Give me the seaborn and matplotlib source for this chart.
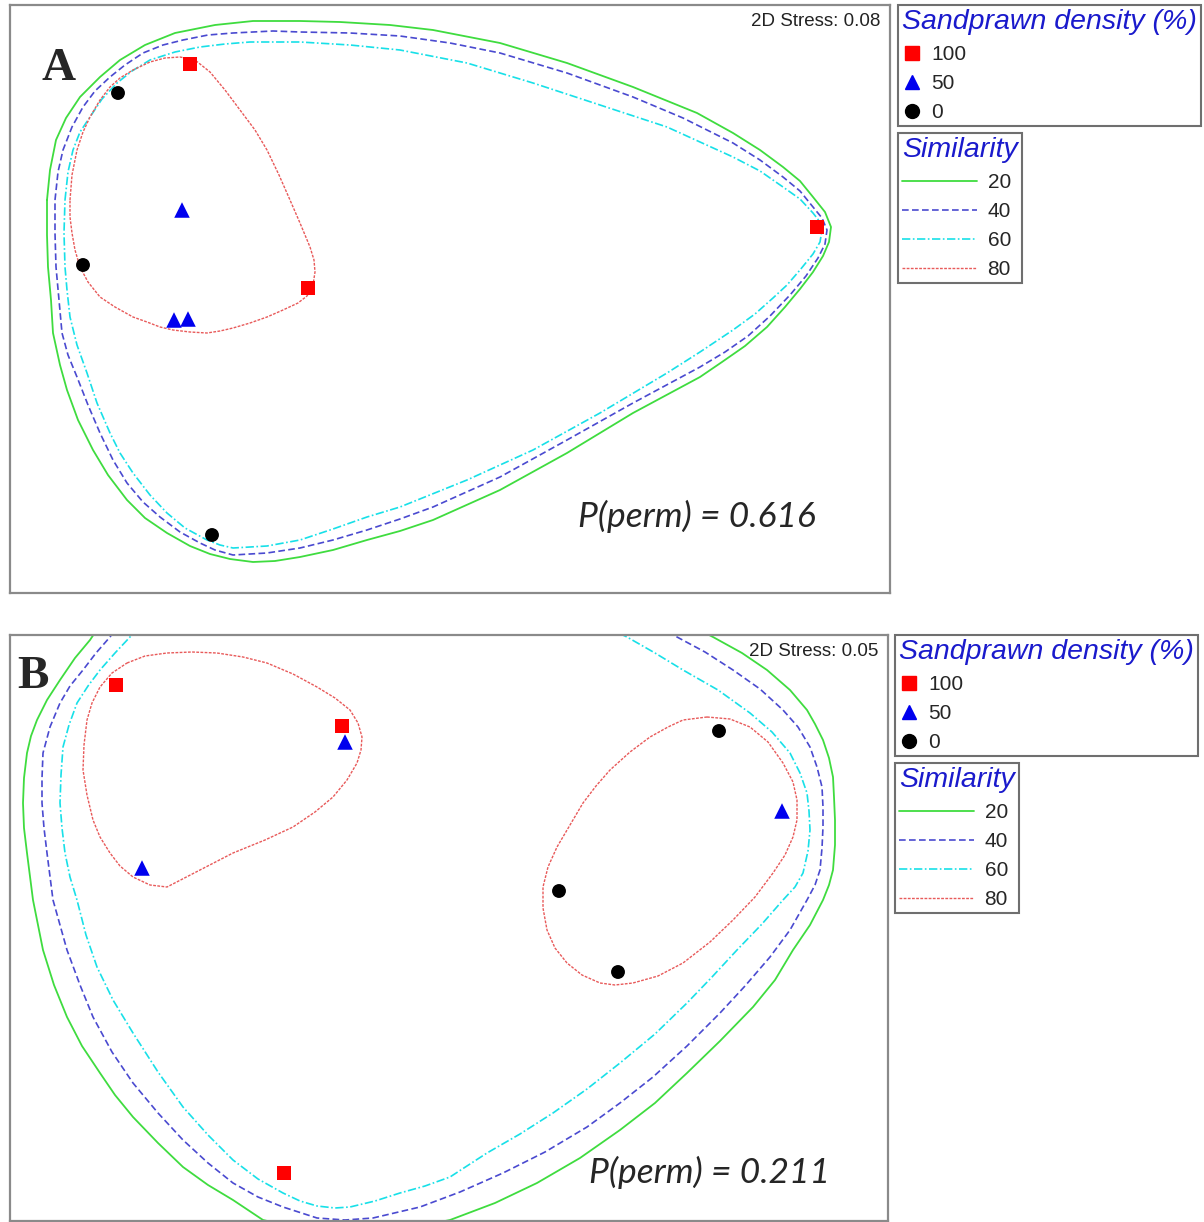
import numpy as np
import pandas as pd
import seaborn as sns
import matplotlib
matplotlib.use("Agg")
import matplotlib.pyplot as plt
from matplotlib.lines import Line2D

# nMDS ordination, coordinates (screen units, y downwards)
# panel A
a_x = [190, 308, 817, 182, 174, 188, 118, 83, 212]
a_y = [64, 288, 227, 210, 320, 319, 93, 265, 535]
a_density = ["100", "100", "100", "50", "50", "50", "0", "0", "0"]
# panel B
b_x = [116, 342, 284, 345, 142, 782, 719, 559, 618]
b_y = [685, 726, 1173, 742, 868, 811, 731, 891, 972]
b_density = ["100", "100", "100", "50", "50", "50", "0", "0", "0"]

# similarity contours (cluster overlays), traced vertices
a_c20 = [(47, 200), (50, 170), (56, 140), (66, 118), (80, 97), (100, 77), (120, 60), (145, 45), (175, 33),
         (215, 25), (253, 21), (300, 21), (340, 22), (390, 25), (433, 30), (500, 43), (567, 63), (633, 87),
         (697, 113), (733, 133), (760, 150), (783, 167), (800, 181), (813, 197), (825, 212), (831, 227),
         (829, 242), (823, 256), (813, 272), (800, 289), (785, 307), (767, 327), (745, 346), (722, 362),
         (700, 377), (633, 413), (567, 453), (500, 490), (433, 520), (400, 531), (367, 540), (333, 550),
         (300, 557), (275, 561), (253, 562), (230, 559), (210, 554), (190, 546), (167, 533), (145, 518),
         (127, 500), (108, 475), (93, 450), (78, 420), (67, 390), (60, 365), (53, 333), (51, 300), (48, 267),
         (47, 235)]
a_c40 = [(55, 200), (58, 172), (63, 150), (72, 127), (83, 107), (95, 91), (110, 77), (125, 65), (143, 53),
         (163, 45), (183, 40), (208, 35), (233, 33), (273, 31), (300, 32), (350, 33), (400, 36), (450, 43),
         (500, 53), (567, 73), (633, 97), (683, 118), (733, 143), (760, 160), (783, 177), (800, 191),
         (813, 207), (822, 218), (827, 230), (825, 244), (818, 258), (806, 276), (790, 295), (770, 316),
         (748, 336), (725, 352), (700, 367), (633, 403), (567, 440), (500, 477), (433, 507), (400, 519),
         (367, 530), (333, 540), (300, 548), (267, 553), (233, 555), (215, 550), (200, 543), (180, 532),
         (160, 517), (143, 502), (127, 483), (113, 460), (100, 433), (88, 405), (77, 377), (68, 355),
         (62, 333), (59, 300), (56, 267), (55, 233)]
a_c60 = [(65, 200), (68, 172), (73, 150), (80, 132), (90, 117), (102, 99), (117, 83), (132, 71), (150, 60),
         (175, 52), (200, 47), (225, 44), (250, 42), (300, 42), (350, 45), (400, 50), (467, 63), (533, 83),
         (600, 105), (667, 127), (733, 157), (760, 171), (783, 187), (800, 199), (813, 213), (820, 222),
         (822, 230), (820, 242), (813, 254), (800, 270), (787, 285), (773, 298), (755, 314), (733, 330),
         (700, 352), (667, 373), (600, 413), (533, 450), (467, 480), (400, 507), (367, 517), (333, 529),
         (300, 540), (267, 546), (233, 548), (220, 545), (207, 540), (185, 528), (167, 513), (150, 495),
         (133, 473), (120, 453), (110, 433), (97, 403), (87, 373), (77, 345), (70, 317), (67, 290), (65, 267),
         (64, 233)]
a_c80 = [(70, 200), (72, 175), (77, 150), (83, 132), (90, 117), (100, 100), (110, 87), (120, 78), (133, 70),
         (150, 62), (165, 58), (180, 57), (195, 60), (210, 72), (225, 90), (240, 110), (255, 130), (267, 150),
         (279, 175), (290, 200), (300, 223), (310, 247), (314, 260), (315, 272), (313, 285), (307, 296),
         (298, 303), (283, 310), (267, 317), (250, 323), (233, 328), (220, 331), (207, 333), (190, 332),
         (173, 330), (160, 327), (147, 322), (133, 317), (115, 307), (100, 297), (88, 282), (80, 267),
         (75, 250), (72, 233), (70, 217)]

b_c20 = [(110, 610), (90, 640), (75, 658), (60, 680), (47, 700), (37, 720), (31, 736), (27, 753), (24, 778),
         (23, 803), (24, 828), (27, 853), (33, 900), (43, 950), (54, 985), (67, 1017), (82, 1046), (100, 1073),
         (115, 1095), (133, 1117), (158, 1143), (183, 1167), (208, 1185), (233, 1200), (263, 1220),
         (350, 1240), (450, 1220), (495, 1203), (537, 1183), (580, 1158), (620, 1130), (655, 1103),
         (687, 1073), (720, 1041), (753, 1007), (775, 980), (793, 950), (810, 925), (823, 900), (829, 885),
         (833, 870), (835, 845), (835, 820), (834, 797), (833, 777), (829, 758), (823, 740), (815, 724),
         (807, 710), (790, 690), (767, 670), (742, 653), (713, 637), (650, 605), (400, 580)]
b_c40 = [(125, 615), (110, 637), (96, 653), (83, 670), (70, 686), (60, 703), (50, 727), (43, 753), (42, 778),
         (42, 803), (44, 828), (47, 853), (53, 900), (67, 950), (80, 985), (93, 1017), (112, 1052),
         (133, 1083), (158, 1113), (183, 1140), (208, 1163), (233, 1183), (258, 1197), (283, 1207),
         (317, 1218), (345, 1220), (373, 1218), (420, 1207), (460, 1192), (503, 1173), (545, 1152),
         (587, 1127), (620, 1103), (653, 1077), (687, 1046), (720, 1013), (745, 986), (770, 957),
         (790, 930), (807, 900), (815, 885), (820, 870), (822, 848), (823, 827), (823, 807), (822, 787),
         (817, 767), (810, 747), (798, 727), (783, 710), (760, 689), (733, 670), (705, 652), (677, 637),
         (620, 610), (400, 590)]
b_c60 = [(145, 615), (130, 637), (115, 653), (100, 670), (88, 686), (77, 703), (69, 725), (63, 747), (61, 775),
         (60, 803), (62, 828), (65, 853), (70, 877), (77, 900), (86, 935), (97, 967), (113, 1000), (133, 1033),
         (158, 1072), (183, 1107), (208, 1135), (233, 1160), (258, 1179), (283, 1193), (300, 1201),
         (317, 1206), (335, 1208), (350, 1207), (375, 1201), (400, 1193), (425, 1186), (450, 1177),
         (487, 1153), (520, 1134), (553, 1113), (587, 1089), (620, 1063), (655, 1034), (687, 1003),
         (712, 977), (737, 950), (762, 924), (783, 900), (795, 887), (803, 873), (808, 851), (810, 830),
         (809, 811), (807, 793), (800, 773), (790, 753), (772, 732), (750, 713), (718, 690), (683, 670),
         (655, 653), (627, 637), (580, 615), (400, 600)]
b_c80_left = [(127, 663), (145, 656), (167, 653), (192, 652), (217, 653), (243, 657), (267, 663), (293, 674),
              (317, 687), (335, 698), (350, 710), (358, 723), (362, 737), (361, 750), (357, 763), (347, 780),
              (333, 797), (315, 812), (293, 827), (265, 840), (233, 853), (200, 870), (167, 887), (150, 885),
              (133, 877), (120, 866), (110, 853), (100, 837), (93, 820), (87, 795), (83, 770), (84, 745),
              (87, 720), (92, 703), (100, 687), (112, 673)]
b_c80_right = [(707, 717), (730, 719), (750, 727), (768, 742), (783, 763), (793, 782), (797, 800), (797, 820),
               (793, 837), (785, 855), (773, 873), (755, 897), (733, 920), (710, 942), (683, 963), (658, 976),
               (633, 983), (615, 985), (600, 983), (582, 975), (567, 963), (555, 948), (547, 930), (543, 908),
               (543, 887), (548, 867), (557, 847), (570, 825), (583, 803), (596, 786), (610, 770), (630, 752),
               (650, 737), (668, 727), (683, 720)]

sim_levels = ["20", "40", "60", "80"]
dens_levels = ["100", "50", "0"]

W, H = 1204, 1222
sns.set_theme(style="white")
plt.rcParams["font.family"] = ["Liberation Sans", "DejaVu Sans"]

pal = {"100": "#ff0000", "50": "#0000ee", "0": "#000000"}
mk = {"100": "s", "50": "^", "0": "o"}
sizes = {"100": 105, "50": 125, "0": 100}
line_style = {"20": dict(color="#3fdc3f", ls="-", lw=1.3),
              "40": dict(color="#4a4ad0", ls=(0, (4, 2)), lw=1.2),
              "60": dict(color="#18e0e8", ls=(0, (5, 1.5, 1, 1.5)), lw=1.2),
              "80": dict(color="#e85a5a", ls=(0, (2, 1)), lw=1.0)}

fig = plt.figure(figsize=(W / 100, H / 100), dpi=100)


def draw_panel(rect, xlim, ylim, pts, contours, letter, stress, perm, perm_xy, leg_xy):
    ax = fig.add_axes([rect[0] / W, 1 - rect[3] / H, (rect[2] - rect[0]) / W, (rect[3] - rect[1]) / H])
    for lev, verts in contours:
        v = np.array(verts + [verts[0]])
        sns.lineplot(x=v[:, 0], y=v[:, 1], sort=False, estimator=None, ax=ax, **line_style[lev])
    for lev in dens_levels:
        sub = pts[pts.density == lev]
        sns.scatterplot(data=sub, x="x", y="y", marker=mk[lev], color=pal[lev], s=sizes[lev],
                        edgecolor="none", ax=ax, legend=False, zorder=5)
    ax.set_xlim(*xlim)
    ax.set_ylim(*ylim)
    ax.set_xticks([])
    ax.set_yticks([])
    ax.set_xlabel("")
    ax.set_ylabel("")
    for sp in ax.spines.values():
        sp.set_color("#8a8a8a")
        sp.set_linewidth(1.6)
    ax.text(letter[1], letter[2], letter[0], family="Liberation Serif",
            fontweight="bold", fontsize=34, ha="left", va="baseline")
    ax.text(xlim[1] - 10, ylim[1] + 8, stress, fontsize=13.5, ha="right", va="top", color="#222222")
    ax.text(perm_xy[0], perm_xy[1], perm, family=["Lato", "DejaVu Sans"], style="italic",
            fontsize=25.5, ha="right", va="baseline")

    # legends
    d_handles = [Line2D([], [], ls="none", marker=mk[l], color=pal[l], markersize=10) for l in dens_levels]
    leg1 = fig.legend(d_handles, dens_levels, title="Sandprawn density (%)", loc="upper left",
                      bbox_to_anchor=(leg_xy[0] / W, 1 - leg_xy[1] / H), alignment="left",
                      prop={"family": "Liberation Sans", "size": 15},
                      title_fontproperties={"family": "Liberation Sans", "style": "italic", "size": 20.5},
                      frameon=True, fancybox=False, edgecolor="#6f6f6f", framealpha=1,
                      handlelength=0.9, handletextpad=0.5, labelspacing=0.48, borderpad=0.2,
                      borderaxespad=0, markerscale=1.0)
    leg1.get_title().set_color("#1a1acc")
    leg1.get_frame().set_linewidth(1.5)
    s_handles = [Line2D([], [], **line_style[l]) for l in sim_levels]
    leg2 = fig.legend(s_handles, sim_levels, title="Similarity", loc="upper left",
                      bbox_to_anchor=(leg_xy[0] / W, 1 - (leg_xy[1] + 128) / H), alignment="left",
                      prop={"family": "Liberation Sans", "size": 15},
                      title_fontproperties={"family": "Liberation Sans", "style": "italic", "size": 20.5},
                      frameon=True, fancybox=False, edgecolor="#6f6f6f", framealpha=1,
                      handlelength=3.6, handletextpad=0.5, labelspacing=0.48, borderpad=0.2,
                      borderaxespad=0)
    leg2.get_title().set_color("#1a1acc")
    leg2.get_frame().set_linewidth(1.5)
    return ax


pts_a = pd.DataFrame({"x": a_x, "y": a_y, "density": a_density})
pts_b = pd.DataFrame({"x": b_x, "y": b_y, "density": b_density})

draw_panel((10, 5, 890, 593), (10, 890), (593, 5), pts_a,
           [("20", a_c20), ("40", a_c40), ("60", a_c60), ("80", a_c80)],
           ("A", 41, 80), "2D Stress: 0.08", "P(perm) = 0.616", (816, 527), (898, 5))
draw_panel((10, 635, 888, 1221), (10, 888), (1221, 635), pts_b,
           [("20", b_c20), ("40", b_c40), ("60", b_c60), ("80", b_c80_left), ("80", b_c80_right)],
           ("B", 17, 688), "2D Stress: 0.05", "P(perm) = 0.211", (830, 1183), (895, 635))

fig.savefig("out.png", dpi=100, facecolor="white")
